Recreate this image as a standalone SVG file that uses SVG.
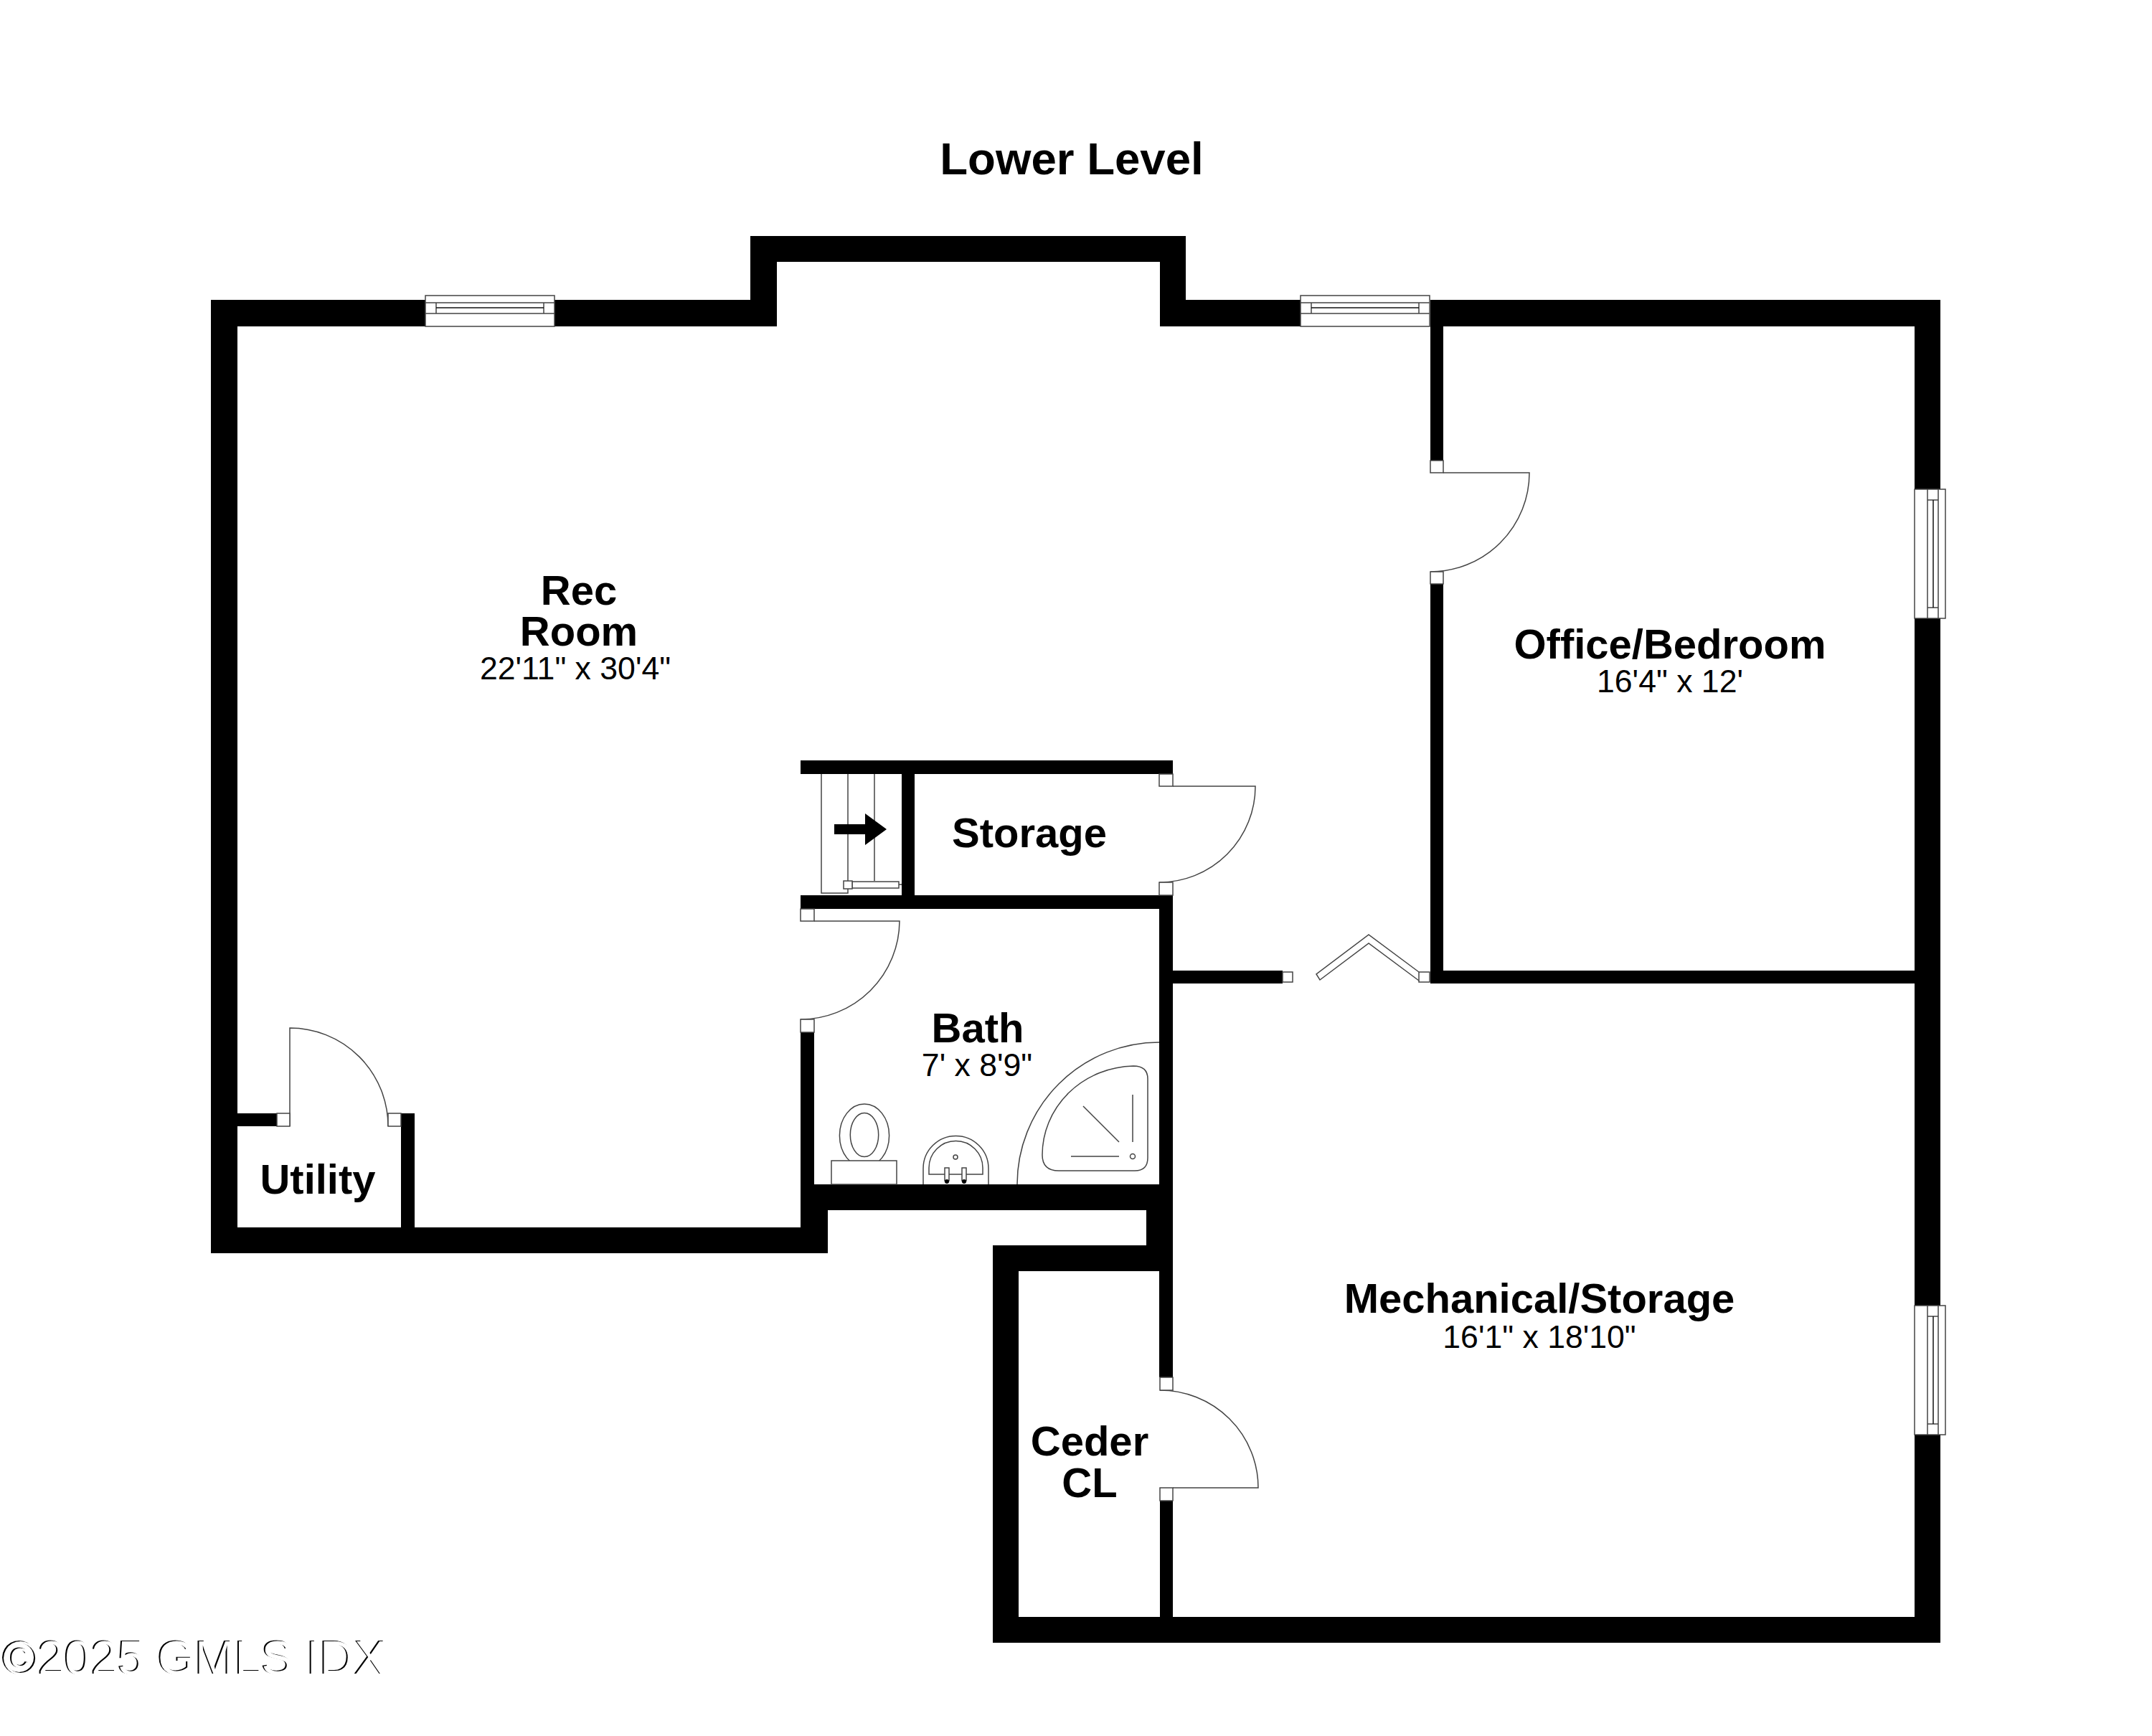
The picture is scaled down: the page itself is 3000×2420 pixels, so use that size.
<svg xmlns="http://www.w3.org/2000/svg" width="3000" height="2420" viewBox="0 0 3000 2420">
<style>
.w{fill:#000}
.l{fill:none;stroke:#444;stroke-width:1.5}
.j{fill:#fff;stroke:#444;stroke-width:1.5}
.t{font-family:"Liberation Sans",Arial,sans-serif;fill:#000;text-anchor:middle}
.b{font-weight:700;font-size:58px}
.d{font-size:44.6px}
</style>
<defs>
<g id="win">
<rect class="j" x="0" y="0" width="180" height="43"/>
<path class="l" d="M0 18H180M0 33H180M15 18V33M165 18V33"/>
<path d="M15 26H165" fill="none" stroke="#111" stroke-width="1.5"/>
</g>
<filter id="emboss" x="-2%" y="-10%" width="104%" height="120%">
<feOffset in="SourceAlpha" dx="2" dy="0.6" result="off"/>
<feComposite in="SourceGraphic" in2="off" operator="out"/>
</filter>
</defs>
<rect width="3000" height="2420" fill="#fff"/>
<g id="walls" class="w">
<rect x="294" y="418" width="37" height="1329"/>
<rect x="294" y="418" width="299" height="37"/>
<rect x="773" y="418" width="310" height="37"/>
<rect x="1046" y="329" width="37" height="126"/>
<rect x="1046" y="329" width="607" height="36"/>
<rect x="1617" y="329" width="36" height="126"/>
<rect x="1617" y="418" width="196" height="37"/>
<rect x="1994" y="418" width="711" height="37"/>
<rect x="2669" y="418" width="36" height="264"/>
<rect x="2669" y="862" width="36" height="958"/>
<rect x="2669" y="2000" width="36" height="290"/>
<rect x="1384" y="2254" width="1321" height="36"/>
<rect x="1384" y="1736" width="36" height="554"/>
<rect x="1384" y="1736" width="251" height="36"/>
<rect x="1598" y="1651" width="37" height="121"/>
<rect x="1616" y="1248" width="19" height="672"/>
<rect x="1617" y="2092" width="18" height="170"/>
<rect x="1116" y="1651" width="519" height="36"/>
<rect x="294" y="1711" width="860" height="36"/>
<rect x="1116" y="1651" width="38" height="96"/>
<rect x="1116" y="1439" width="19" height="212"/>
<rect x="331" y="1552" width="55" height="18"/>
<rect x="559" y="1552" width="19" height="159"/>
<rect x="1116" y="1060" width="519" height="19"/>
<rect x="1257" y="1079" width="18" height="170"/>
<rect x="1116" y="1248" width="519" height="19"/>
<rect x="1635" y="1353" width="153" height="18"/>
<rect x="1994" y="455" width="18" height="187"/>
<rect x="1994" y="814" width="18" height="557"/>
<rect x="1994" y="1353" width="675" height="18"/>
</g>
<g id="windows">
<use href="#win" transform="translate(593,455) scale(1,-1)"/>
<use href="#win" transform="translate(1813,455) scale(1,-1)"/>
<use href="#win" transform="translate(2669,682) rotate(90) scale(1,-1)"/>
<use href="#win" transform="translate(2669,1820) rotate(90) scale(1,-1)"/>
</g>
<g id="doors">
<g id="door-utility">
<path class="l" d="M404 1570V1433A137 137 0 0 1 541 1570"/>
<rect class="j" x="386" y="1552" width="18" height="18"/>
<rect class="j" x="541" y="1552" width="18" height="18"/>
</g>
<g id="door-office">
<path class="l" d="M2012 659H2132A138 138 0 0 1 1994 797"/>
<rect class="j" x="1994" y="642" width="18" height="17"/>
<rect class="j" x="1994" y="797" width="18" height="17"/>
</g>
<g id="door-storage">
<path class="l" d="M1635 1096H1750A134 134 0 0 1 1616 1230"/>
<rect class="j" x="1616" y="1079" width="19" height="17"/>
<rect class="j" x="1616" y="1230" width="19" height="18"/>
</g>
<g id="door-bath">
<path class="l" d="M1135 1284H1254A138 138 0 0 1 1116 1421"/>
<rect class="j" x="1116" y="1267" width="19" height="17"/>
<rect class="j" x="1116" y="1421" width="19" height="18"/>
</g>
<g id="door-closet">
<path class="l" d="M1617 1938A137 136 0 0 1 1754 2074H1635"/>
<rect class="j" x="1617" y="1920" width="18" height="18"/>
<rect class="j" x="1617" y="2074" width="18" height="18"/>
</g>
<g id="door-bifold">
<rect class="j" x="1788" y="1355" width="14" height="14"/>
<rect class="j" x="1978" y="1355" width="15" height="14"/>
<path class="l" d="M1978 1355L1908 1303L1835 1358L1840 1366L1908 1315L1978 1367"/>
</g>
</g>
<g id="stairs">
<path class="l" d="M1145 1079V1245H1182V1079M1219 1079V1228M1253 1233H1257"/>
<rect class="j" x="1188" y="1229" width="65" height="9"/>
<rect class="j" x="1176" y="1228" width="12" height="11"/>
<path d="M1163 1149H1206V1134L1236 1156L1206 1178V1163H1163Z" fill="#000"/>
</g>
<g id="fixtures">
<g id="toilet">
<ellipse class="j" cx="1205" cy="1583" rx="34.6" ry="44"/>
<ellipse class="l" cx="1205" cy="1582" rx="19.7" ry="30.5"/>
<rect class="j" x="1159" y="1618" width="91" height="33"/>
</g>
<g id="sink">
<path class="l" d="M1287 1651V1629A45.5 45.5 0 0 1 1378 1629V1651"/>
<path class="l" d="M1295 1637V1628A37.5 37.5 0 0 1 1370 1628V1637Z"/>
<circle class="l" cx="1332" cy="1613" r="3"/>
<rect class="j" x="1317" y="1628" width="6" height="18"/>
<rect class="j" x="1341" y="1628" width="6" height="18"/>
<circle cx="1320" cy="1647" r="3" fill="#000"/>
<circle cx="1344" cy="1647" r="3" fill="#000"/>
</g>
<g id="shower">
<path class="l" d="M1418 1651A198 198 0 0 1 1616 1453"/>
<path class="l" d="M1580 1486Q1600 1486 1600 1504V1614Q1600 1632 1582 1632H1476Q1453 1632 1453 1610A130 124 0 0 1 1580 1486Z"/>
<path class="l" d="M1579 1526V1592M1510 1542L1560 1592M1493 1612H1560"/>
<circle class="l" cx="1579" cy="1612" r="3.5"/>
</g>
</g>
<g id="labels">
<text class="t" x="1494" y="243" font-size="63.6" font-weight="700">Lower Level</text>
<g id="rec-room">
<text class="t b" x="807" y="843">Rec</text>
<text class="t b" x="807" y="900">Room</text>
<text class="t d" x="802" y="947">22'11" x 30'4"</text>
</g>
<g id="office">
<text class="t b" x="2328" y="918">Office/Bedroom</text>
<text class="t d" x="2328" y="965">16'4" x 12'</text>
</g>
<g id="storage"><text class="t b" x="1435" y="1181">Storage</text></g>
<g id="bath">
<text class="t b" x="1363" y="1453">Bath</text>
<text class="t d" x="1362" y="1500">7' x 8'9"</text>
</g>
<g id="utility"><text class="t b" x="443" y="1664">Utility</text></g>
<g id="ceder">
<text class="t b" x="1519" y="2029">Ceder</text>
<text class="t b" x="1519" y="2087">CL</text>
</g>
<g id="mechanical">
<text class="t b" x="2146" y="1830">Mechanical/Storage</text>
<text class="t d" x="2146" y="1879">16'1" x 18'10"</text>
</g>
<text id="watermark" x="2" y="2333" font-family="'Liberation Sans',Arial,sans-serif" font-size="66.7" fill="#000" filter="url(#emboss)">©2025 GMLS IDX</text>
</g>
</svg>
